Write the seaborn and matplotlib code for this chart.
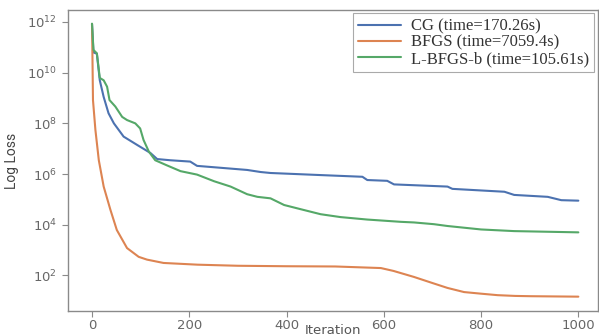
import numpy as np
import pandas as pd
import matplotlib
matplotlib.use("Agg")
import matplotlib.pyplot as plt
import seaborn as sns
from matplotlib.ticker import NullLocator

# ---- data ----
cg_iter = [0, 3, 10, 16, 24, 34, 45, 65, 93, 120, 134, 161, 202, 216, 244, 319, 347, 367,
           470, 556, 566, 607, 621, 731, 741, 848, 868, 937, 965, 1000]
cg_loss = [8.3e11, 6.3e10, 5.6e10, 5.0e9, 1.1e9, 2.5e8, 1.0e8, 3.0e7, 1.4e7, 6.8e6, 3.9e6,
           3.5e6, 3.1e6, 2.1e6, 1.9e6, 1.45e6, 1.2e6, 1.1e6, 9.1e5, 7.8e5, 5.8e5, 5.4e5,
           3.9e5, 3.2e5, 2.6e5, 2.0e5, 1.5e5, 1.26e5, 9.3e4, 8.9e4]

bfgs_iter = [0, 1, 2, 7, 14, 24, 38, 51, 72, 96, 113, 147, 217, 300, 400, 500, 594, 620,
             662, 700, 731, 765, 800, 834, 870, 903, 1000]
bfgs_loss = [8.3e11, 3.2e10, 8.3e8, 5.5e7, 3.5e6, 3.2e5, 3.8e4, 6.2e3, 1.2e3, 540, 420, 310,
             265, 240, 230, 225, 195, 150, 87, 50, 32, 22, 19, 16.6, 15.5, 15.1, 14.5]

lbfgs_iter = [0, 3, 10, 16, 24, 31, 36, 48, 62, 72, 89, 99, 106, 117, 130, 154, 182, 216,
              251, 285, 319, 340, 367, 395, 429, 470, 511, 566, 635, 662, 703, 731, 800,
              868, 1000]
lbfgs_loss = [8.6e11, 7.9e10, 5.8e10, 6.2e9, 5.0e9, 2.8e9, 8.3e8, 4.6e8, 1.8e8, 1.35e8,
              1.0e8, 6.3e7, 2.2e7, 7.6e6, 3.5e6, 2.2e6, 1.3e6, 9.5e5, 5.2e5, 3.2e5, 1.6e5,
              1.26e5, 1.1e5, 6.0e4, 4.1e4, 2.6e4, 2.0e4, 1.6e4, 1.3e4, 1.23e4, 1.05e4,
              8.9e3, 6.5e3, 5.6e3, 5.0e3]

labels = ["CG (time=170.26s)", "BFGS (time=7059.4s)", "L-BFGS-b (time=105.61s)"]
y_ticks = [1e2, 1e4, 1e6, 1e8, 1e10, 1e12]
x_ticks = [0, 200, 400, 600, 800, 1000]

df = pd.concat([
    pd.DataFrame({"Iteration": cg_iter, "Loss": cg_loss, "Method": labels[0]}),
    pd.DataFrame({"Iteration": bfgs_iter, "Loss": bfgs_loss, "Method": labels[1]}),
    pd.DataFrame({"Iteration": lbfgs_iter, "Loss": lbfgs_loss, "Method": labels[2]}),
], ignore_index=True)

sns.set_style("ticks", {"axes.edgecolor": "#8a8a8a", "xtick.color": "#8a8a8a",
                        "ytick.color": "#8a8a8a"})
plt.rcParams["font.family"] = ["DejaVu Sans"]

fig = plt.figure(figsize=(5.99, 3.36), dpi=100)
ax = fig.add_axes([0.113, 0.074, 0.885, 0.896])

palette = sns.color_palette("deep", 3)
sns.lineplot(data=df, x="Iteration", y="Loss", hue="Method", palette=palette,
             estimator=None, linewidth=1.5, ax=ax)

ax.set_yscale("log")
ax.set_ylim(10 ** 0.59, 10 ** 12.47)
ax.set_xlim(-50, 1040)
ax.set_yticks(y_ticks)
ax.set_xticks(x_ticks)
ax.yaxis.set_minor_locator(NullLocator())
ax.tick_params(axis="both", labelsize=9.5, labelcolor="#666666", length=4, width=0.8)
ax.tick_params(axis="x", pad=2)
for s in ax.spines.values():
    s.set_linewidth(1.0)

ax.set_xlabel("Iteration", fontsize=9.5, color="#555555")
ax.xaxis.set_label_coords(0.5, -0.042)
ax.xaxis.label.set_verticalalignment("top")
ax.set_ylabel("Log Loss", fontsize=10, color="#444444", family=["Roboto", "DejaVu Sans"],
              labelpad=6)

leg = ax.legend(loc="upper right", bbox_to_anchor=(1.0, 1.0), frameon=True,
                fancybox=False, framealpha=1, edgecolor="#aaaaaa",
                prop={"family": ["Liberation Serif"], "size": 12},
                handlelength=2.6, labelspacing=0.02, borderpad=0.3,
                handletextpad=0.6, borderaxespad=0.2)
leg.get_frame().set_linewidth(0.8)
for t in leg.get_texts():
    t.set_color("#333333")

fig.savefig("out.png", dpi=100)
